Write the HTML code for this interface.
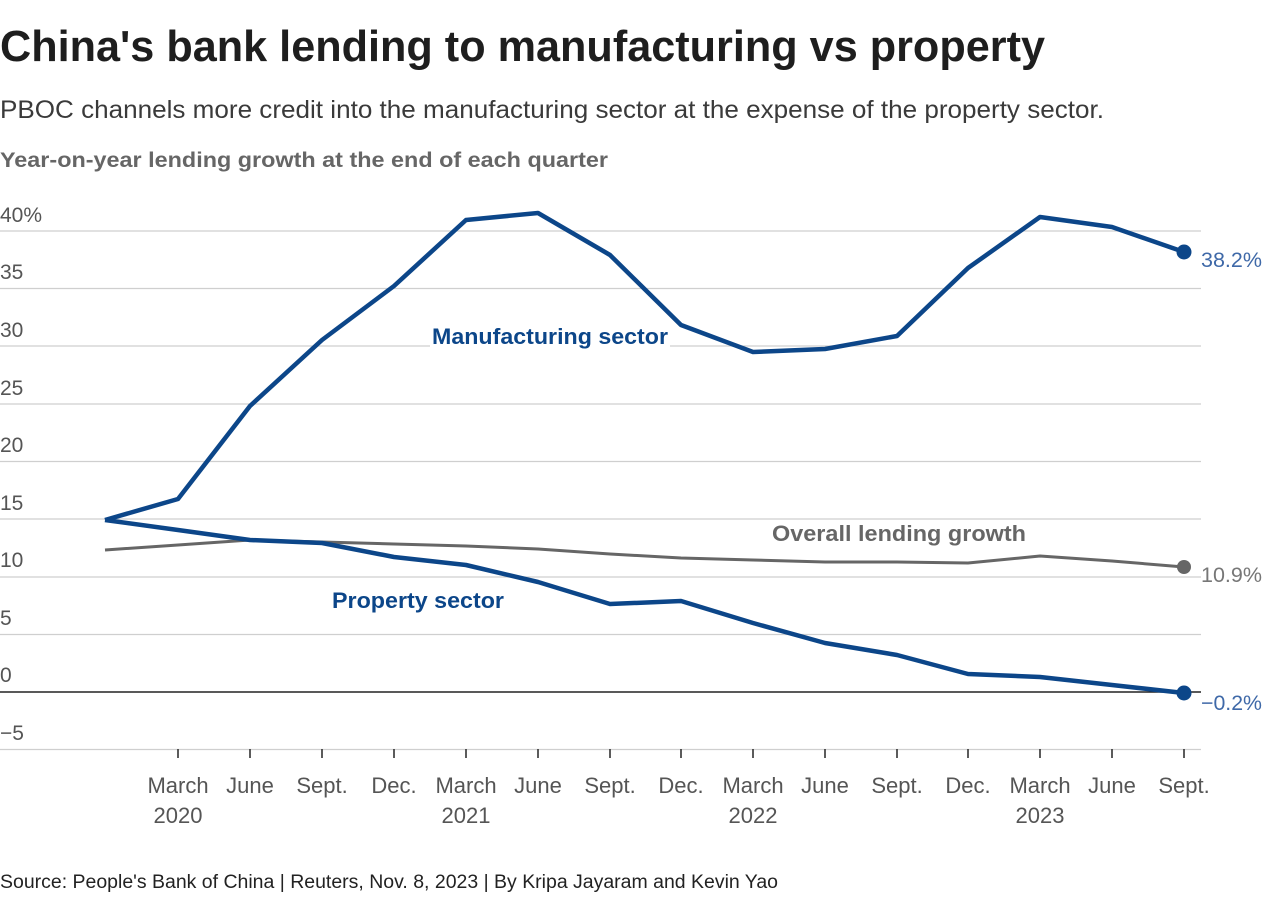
<!DOCTYPE html>
<html>
<head>
<meta charset="utf-8">
<style>
html,body{margin:0;padding:0;background:#fff;}
svg{display:block;}
text{font-family:"Liberation Sans",sans-serif;}
</style>
</head>
<body>
<svg width="1280" height="901" viewBox="0 0 1280 901" xmlns="http://www.w3.org/2000/svg">
<rect width="1280" height="901" fill="#fff"/>
<text x="0" y="61" font-size="44" font-weight="bold" fill="#1e1e1e" textLength="1045" lengthAdjust="spacingAndGlyphs">China's bank lending to manufacturing vs property</text>
<text x="0" y="118" font-size="25" fill="#3a3a3a" textLength="1104" lengthAdjust="spacingAndGlyphs">PBOC channels more credit into the manufacturing sector at the expense of the property sector.</text>
<text x="0" y="167" font-size="21" font-weight="bold" fill="#666" textLength="608" lengthAdjust="spacingAndGlyphs">Year-on-year lending growth at the end of each quarter</text>

<g stroke="#cfcfcf" stroke-width="1.3">
<line x1="0" y1="231" x2="1201" y2="231"/>
<line x1="0" y1="288.5" x2="1201" y2="288.5"/>
<line x1="0" y1="346" x2="1201" y2="346"/>
<line x1="0" y1="404" x2="1201" y2="404"/>
<line x1="0" y1="461.5" x2="1201" y2="461.5"/>
<line x1="0" y1="519" x2="1201" y2="519"/>
<line x1="0" y1="577" x2="1201" y2="577"/>
<line x1="0" y1="634.5" x2="1201" y2="634.5"/>
<line x1="0" y1="749.5" x2="1201" y2="749.5"/>
</g>
<line x1="0" y1="692" x2="1201" y2="692" stroke="#222" stroke-width="1.6"/>

<g font-size="21" fill="#555">
<text x="0" y="222">40%</text>
<text x="0" y="279">35</text>
<text x="0" y="337">30</text>
<text x="0" y="395">25</text>
<text x="0" y="452">20</text>
<text x="0" y="510">15</text>
<text x="0" y="567">10</text>
<text x="0" y="625">5</text>
<text x="0" y="682">0</text>
<text x="0" y="740">−5</text>
</g>

<g stroke="#333" stroke-width="1.6">
<line x1="178" y1="749" x2="178" y2="758"/>
<line x1="250" y1="749" x2="250" y2="758"/>
<line x1="322" y1="749" x2="322" y2="758"/>
<line x1="394" y1="749" x2="394" y2="758"/>
<line x1="466" y1="749" x2="466" y2="758"/>
<line x1="538" y1="749" x2="538" y2="758"/>
<line x1="610" y1="749" x2="610" y2="758"/>
<line x1="681" y1="749" x2="681" y2="758"/>
<line x1="753" y1="749" x2="753" y2="758"/>
<line x1="825" y1="749" x2="825" y2="758"/>
<line x1="897" y1="749" x2="897" y2="758"/>
<line x1="968" y1="749" x2="968" y2="758"/>
<line x1="1040" y1="749" x2="1040" y2="758"/>
<line x1="1112" y1="749" x2="1112" y2="758"/>
<line x1="1184" y1="749" x2="1184" y2="758"/>
</g>

<g font-size="22" fill="#555" text-anchor="middle">
<text x="178" y="793">March</text>
<text x="250" y="793">June</text>
<text x="322" y="793">Sept.</text>
<text x="394" y="793">Dec.</text>
<text x="466" y="793">March</text>
<text x="538" y="793">June</text>
<text x="610" y="793">Sept.</text>
<text x="681" y="793">Dec.</text>
<text x="753" y="793">March</text>
<text x="825" y="793">June</text>
<text x="897" y="793">Sept.</text>
<text x="968" y="793">Dec.</text>
<text x="1040" y="793">March</text>
<text x="1112" y="793">June</text>
<text x="1184" y="793">Sept.</text>
<text x="178" y="823">2020</text>
<text x="466" y="823">2021</text>
<text x="753" y="823">2022</text>
<text x="1040" y="823">2023</text>
</g>

<!-- Overall lending growth -->
<polyline fill="none" stroke="#666" stroke-width="3" stroke-linejoin="round"
points="105,550 178,545 250,540 322,542 394,544 466,546 538,549 610,554 681,558 753,560 825,562 897,562 968,563 1040,556 1112,561 1184,567"/>
<circle cx="1184" cy="567" r="7" fill="#666"/>

<!-- Property -->
<polyline fill="none" stroke="#0c4689" stroke-width="4.5" stroke-linejoin="round"
points="105,520 178,530 250,540 322,543 394,557 466,565 538,582 610,604 681,601 753,623 825,643 897,655 968,674 1040,677 1112,685 1184,693"/>
<circle cx="1184" cy="693" r="7.5" fill="#0c4689"/>

<!-- Manufacturing -->
<rect x="430" y="322" width="240" height="30" fill="#fff"/>
<polyline fill="none" stroke="#0c4689" stroke-width="4.5" stroke-linejoin="round"
points="105,520 178,499 250,406 322,340 394,286 466,220 538,213 610,255 681,325 753,352 825,349 897,336 968,268 1040,217 1112,227 1184,252"/>
<circle cx="1184" cy="252" r="7.5" fill="#0c4689"/>

<text x="432" y="344" font-size="22" font-weight="bold" fill="#0c4689" textLength="236" lengthAdjust="spacingAndGlyphs">Manufacturing sector</text>
<text x="332" y="608" font-size="22" font-weight="bold" fill="#0c4689" textLength="172" lengthAdjust="spacingAndGlyphs">Property sector</text>
<text x="772" y="541" font-size="22" font-weight="bold" fill="#666" textLength="254" lengthAdjust="spacingAndGlyphs">Overall lending growth</text>

<g font-size="21">
<text x="1201" y="267" fill="#3f69a8" textLength="61" lengthAdjust="spacingAndGlyphs">38.2%</text>
<text x="1201" y="582" fill="#777" textLength="61" lengthAdjust="spacingAndGlyphs">10.9%</text>
<text x="1201" y="710" fill="#3f69a8" textLength="61" lengthAdjust="spacingAndGlyphs">−0.2%</text>
</g>

<text x="0" y="888" font-size="19" fill="#222" textLength="778" lengthAdjust="spacingAndGlyphs">Source: People's Bank of China | Reuters, Nov. 8, 2023 | By Kripa Jayaram and Kevin Yao</text>
</svg>
</body>
</html>
